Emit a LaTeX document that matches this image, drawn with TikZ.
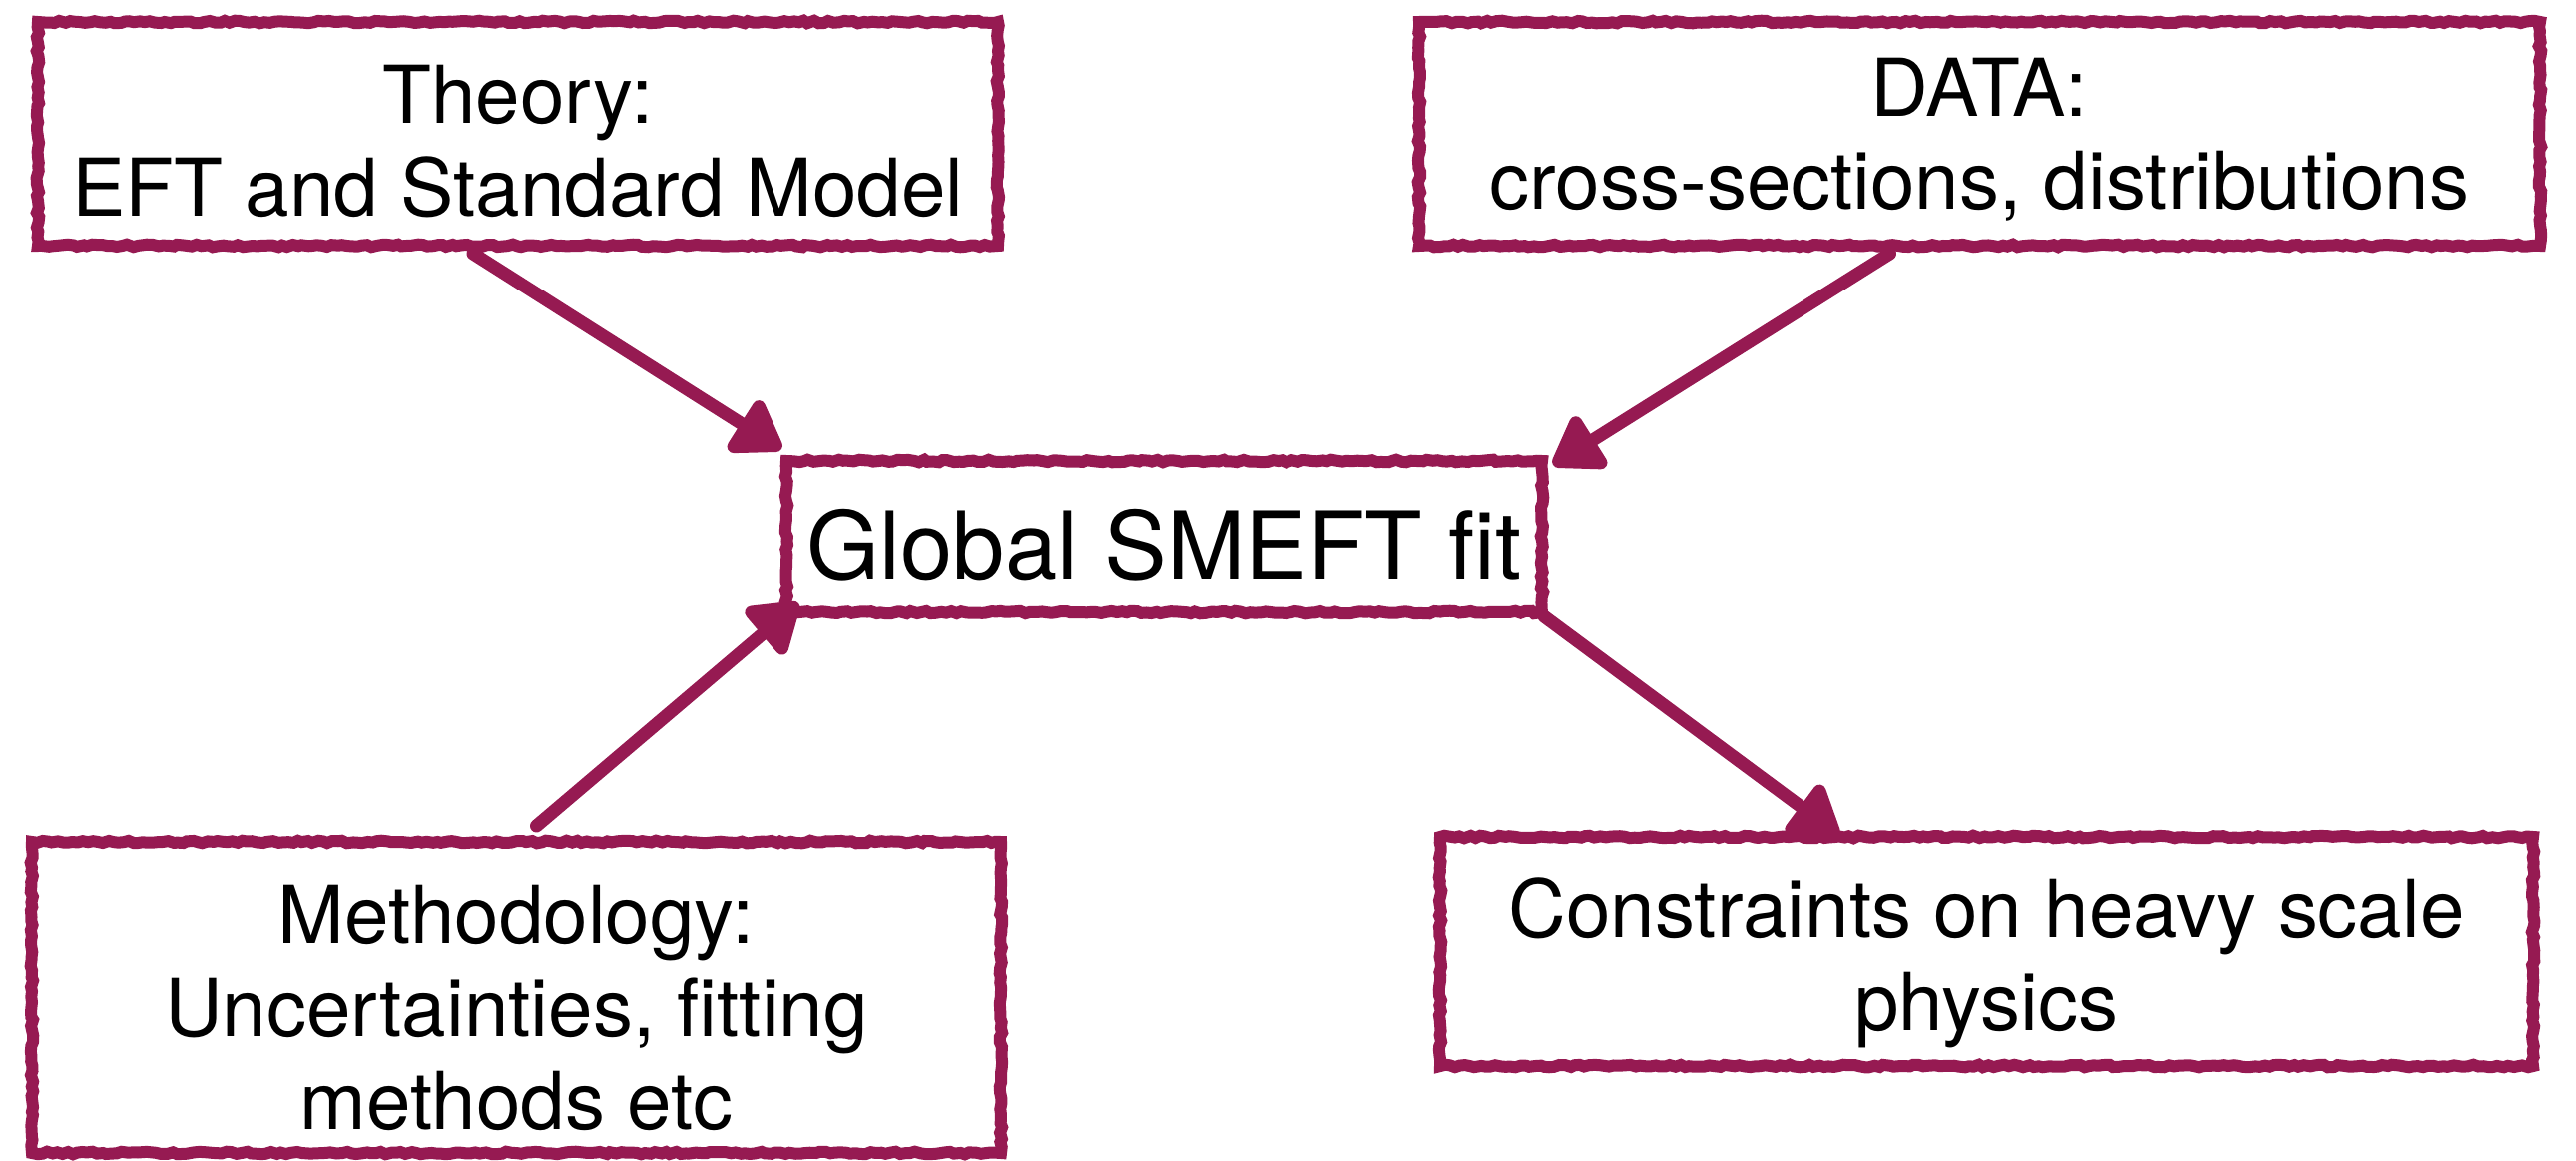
\documentclass[tikz,border=0pt]{standalone}
\usepackage{fontspec}
\setmainfont{TeX Gyre Heros}
\usetikzlibrary{arrows.meta,decorations.pathmorphing}

\definecolor{crayon}{RGB}{150,26,82}

\tikzset{
  sketchbox/.style={
    draw=crayon, line width=12pt, rectangle, outer sep=0pt, inner sep=0pt,
    decorate, decoration={random steps, segment length=5pt, amplitude=1.3pt}
  },
  caption/.style={
    align=center, text=black, inner sep=0pt,
    font=\fontsize{80}{93}\selectfont
  },
  flow/.style={
    draw=crayon, line width=13pt, line cap=round,
    -{Triangle[length=54pt,width=68pt,round]}
  }
}

\begin{document}
\begin{tikzpicture}[x=1pt,y=-1pt]
  \useasboundingbox (0,0) rectangle (2581,1162);

  % inputs
  \node[sketchbox, minimum width=962pt, minimum height=224pt] (theory) at (519,134) {};
  \node[caption] (theorytext) at ([yshift=-8pt]theory.center)
    {Theory:\\EFT and Standard Model};

  \node[sketchbox, minimum width=1123pt, minimum height=224pt] (data) at (1983.5,134) {};
  \node[caption] (datatext) at ([yshift=-6pt]data.center)
    {DATA:\\cross-sections, distributions};

  \node[sketchbox, minimum width=971pt, minimum height=312pt] (method) at (517.5,999) {};
  \node[caption] (methodtext) at ([yshift=-11pt]method.center)
    {Methodology:\\Uncertainties, fitting\\methods etc};

  % the fit
  \node[sketchbox, minimum width=757pt, minimum height=151pt] (fit) at (1166.5,537.5) {};
  \node[caption, font=\fontsize{94}{100}\selectfont] (fittext) at ([yshift=-9pt]fit.center)
    {Global SMEFT fit};

  % output
  \node[sketchbox, minimum width=1095pt, minimum height=230pt] (result) at (1990.5,953) {};
  \node[caption] (resulttext) at ([yshift=-12pt]result.center)
    {Constraints on heavy scale\\physics};

  % connectors
  \draw[flow] ([xshift=-45pt,yshift=-8pt]theory.south)
    -- ([xshift=-5pt,yshift=12pt]fit.north west);
  \draw[flow] ([xshift=-90pt,yshift=-8pt]data.south)
    -- ([xshift=11pt,yshift=-4pt]fit.north east);
  \draw[flow] ([xshift=20pt,yshift=16pt]method.north)
    -- ([xshift=12pt,yshift=9pt]fit.south west);
  \draw[flow] ([xshift=2pt,yshift=-4pt]fit.south east)
    -- ([xshift=-148pt,yshift=2pt]result.north);
\end{tikzpicture}
\end{document}
